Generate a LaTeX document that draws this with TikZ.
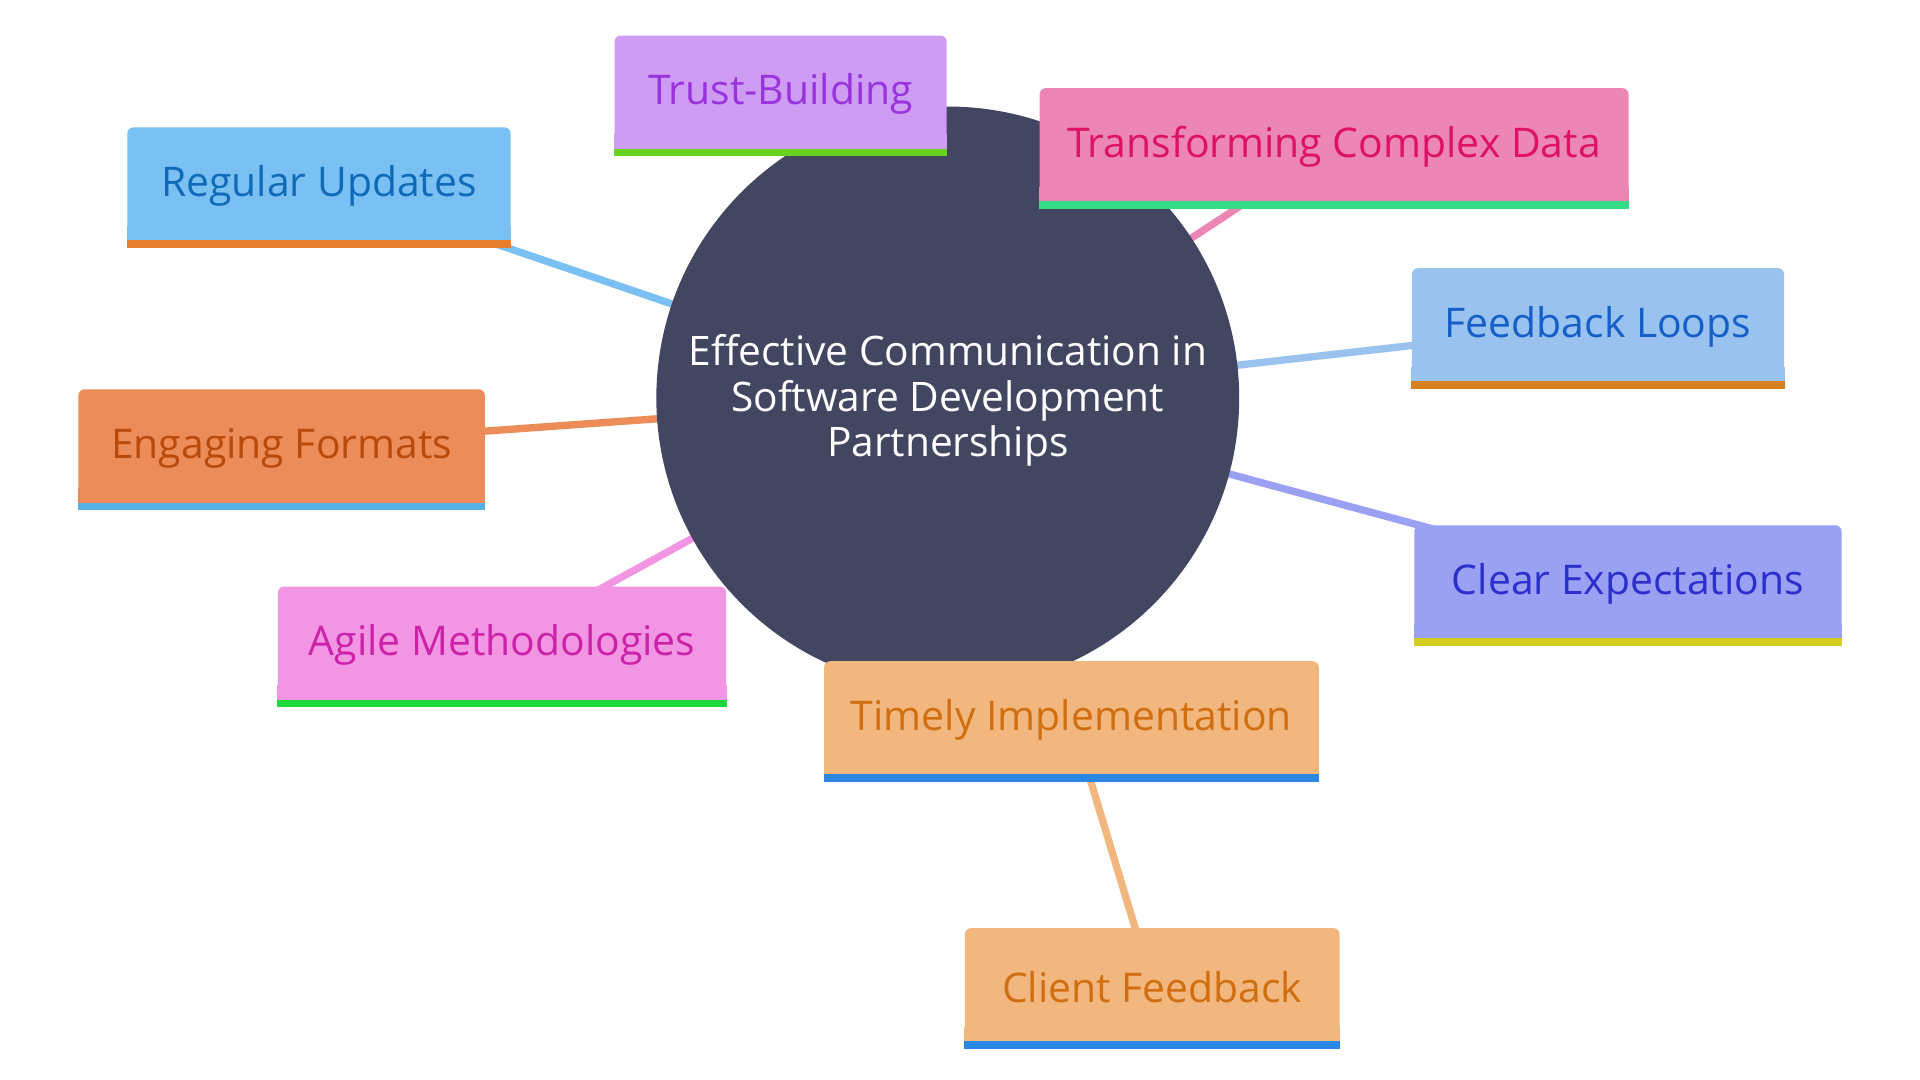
\documentclass[tikz,border=0pt]{standalone}
\usepackage{fontspec}
\setmainfont{Open Sans}
\definecolor{hubc}{HTML}{424660}
\definecolor{ruF}{HTML}{7BC0F2}\definecolor{ruB}{HTML}{E67E30}\definecolor{ruT}{HTML}{0F6BBA}
\definecolor{tbF}{HTML}{CE9CF2}\definecolor{tbB}{HTML}{66D41E}\definecolor{tbT}{HTML}{9933DD}
\definecolor{tdF}{HTML}{EC86B4}\definecolor{tdB}{HTML}{33DD88}\definecolor{tdT}{HTML}{DD1166}
\definecolor{flF}{HTML}{9AC2EE}\definecolor{flB}{HTML}{D88020}\definecolor{flT}{HTML}{1560C8}
\definecolor{efF}{HTML}{EC8C58}\definecolor{efB}{HTML}{55B0E8}\definecolor{efT}{HTML}{B84A0C}
\definecolor{ceF}{HTML}{9AA0F2}\definecolor{ceB}{HTML}{D4CC1E}\definecolor{ceT}{HTML}{2D2ECC}
\definecolor{amF}{HTML}{F295E2}\definecolor{amB}{HTML}{1ED83A}\definecolor{amT}{HTML}{CC22AA}
\definecolor{tiF}{HTML}{F1B77E}\definecolor{tiB}{HTML}{2A88E4}\definecolor{tiT}{HTML}{D06E10}
\pgfdeclarelayer{bg}
\pgfsetlayers{bg,main}
\tikzset{
  topic/.style={rounded corners=2.5pt, minimum height=46pt, inner sep=0pt},
  topictext/.style={inner sep=0pt, font=\fontsize{16.7}{19}\selectfont},
  hub/.style={circle, fill=hubc, minimum size=238pt, inner sep=0pt},
  hubtext/.style={text=white, align=center, font=\fontsize{16.6}{18.5}\selectfont},
  link/.style={line width=3pt}
}
\newcommand\topicbox[8]{%
  \node[topic, fill=#6, minimum width=#4*0.5pt] (#1) at (#2,#3) {};
  \fill[#6] (#1.south west) rectangle ([yshift=6pt]#1.south east);
  \fill[#7] (#1.south west) rectangle ([yshift=-3pt]#1.south east);
  \node[topictext, text=#8] (#1text) at ([yshift=-1pt]#1.center) {#5};
}
\begin{document}
\begin{tikzpicture}[x=0.5pt,y=-0.5pt]
\useasboundingbox (0,0) rectangle (1568,882);
\node[hub] (hub) at (774,325) {};
\node[hubtext] (hubtext) at (774,327) {Effective Communication in\\Software Development\\Partnerships};
\topicbox{ru}{260.5}{150}{313}{Regular Updates}{ruF}{ruB}{ruT}
\topicbox{tb}{637.5}{75}{271}{Trust-Building}{tbF}{tbB}{tbT}
\topicbox{td}{1089.5}{118}{481}{Transforming Complex Data}{tdF}{tdB}{tdT}
\topicbox{fl}{1305}{265}{304}{Feedback Loops}{flF}{flB}{flT}
\topicbox{ef}{230}{364}{332}{Engaging Formats}{efF}{efB}{efT}
\topicbox{ce}{1329.5}{475}{349}{Clear Expectations}{ceF}{ceB}{ceT}
\topicbox{am}{410}{525}{366}{Agile Methodologies}{amF}{amB}{amT}
\topicbox{ti}{875}{586}{404}{Timely Implementation}{tiF}{tiB}{tiT}
\topicbox{cf}{941}{804}{306}{Client Feedback}{tiF}{tiB}{tiT}
\begin{pgfonlayer}{bg}
\draw[link, ruF] (hub.center) -- (ru.center);
\draw[link, tbF] (hub.center) -- (tb.center);
\draw[link, tdF] (hub.center) -- (td.center);
\draw[link, flF] (hub.center) -- (fl.center);
\draw[link, efF] (hub.center) -- (ef.center);
\draw[link, ceF] (hub.center) -- (ce.center);
\draw[link, amF] (hub.center) -- (am.center);
\draw[link, tiF] (hub.center) -- (ti.center);
\draw[link, tiF] (ti.center) -- (cf.center);
\end{pgfonlayer}
\end{tikzpicture}
\end{document}
